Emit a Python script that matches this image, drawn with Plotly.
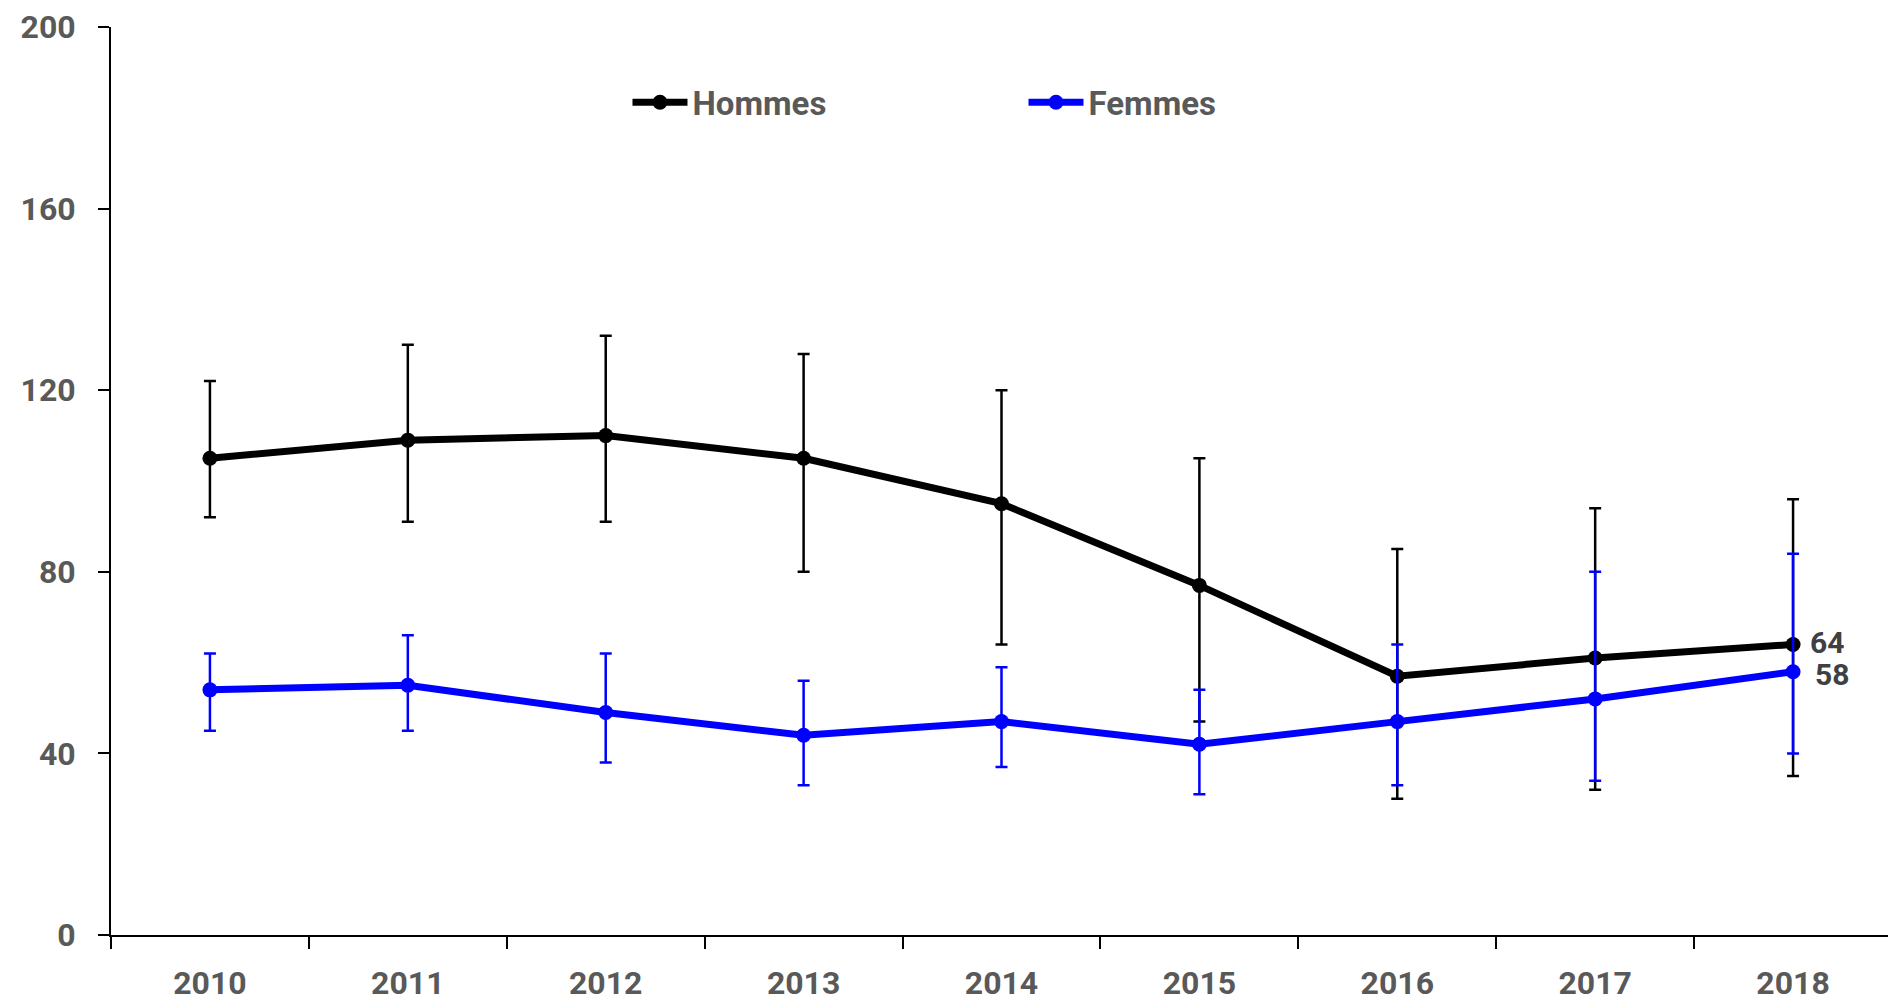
import plotly.graph_objects as go

years = ["2010", "2011", "2012", "2013", "2014", "2015", "2016", "2017", "2018"]
hommes = [105, 109, 110, 105, 95, 77, 57, 61, 64]
hommes_hi = [122, 130, 132, 128, 120, 105, 85, 94, 96]
hommes_lo = [92, 91, 91, 80, 64, 47, 30, 32, 35]
femmes = [54, 55, 49, 44, 47, 42, 47, 52, 58]
femmes_hi = [62, 66, 62, 56, 59, 54, 64, 80, 84]
femmes_lo = [45, 45, 38, 33, 37, 31, 33, 34, 40]
y_ticks = [0, 40, 80, 120, 160, 200]

FONT = "Roboto, Arial, sans-serif"
GREY = "#595959"

def up(v, hi):
    return [h - x for x, h in zip(v, hi)]

def down(v, lo):
    return [x - l for x, l in zip(v, lo)]

fig = go.Figure()
fig.add_trace(go.Scatter(
    x=years, y=hommes, name="Hommes", mode="lines+markers",
    line=dict(color="#000000", width=7),
    marker=dict(color="#000000", size=15),
    error_y=dict(type="data", symmetric=False, array=up(hommes, hommes_hi),
                 arrayminus=down(hommes, hommes_lo), color="#000000",
                 thickness=2.5, width=6),
))
fig.add_trace(go.Scatter(
    x=years, y=femmes, name="Femmes", mode="lines+markers",
    line=dict(color="#0000FF", width=7),
    marker=dict(color="#0000FF", size=15),
    error_y=dict(type="data", symmetric=False, array=up(femmes, femmes_hi),
                 arrayminus=down(femmes, femmes_lo), color="#0000FF",
                 thickness=2.5, width=6),
))

last = len(years) - 1
fig.add_annotation(x=last, y=hommes[last], text=str(hommes[last]), showarrow=False,
                   xanchor="left", xshift=15, yshift=2,
                   font=dict(family=FONT, size=30, color="#404040", weight="bold"))
fig.add_annotation(x=last, y=femmes[last], text=str(femmes[last]), showarrow=False,
                   xanchor="left", xshift=20, yshift=-3,
                   font=dict(family=FONT, size=30, color="#404040", weight="bold"))

fig.update_layout(
    width=1888, height=994,
    margin=dict(l=103, r=4, t=19, b=67, autoexpand=False),
    plot_bgcolor="white", paper_bgcolor="white",
    font=dict(family=FONT, size=32, color=GREY, weight="bold"),
    legend=dict(orientation="h", x=0.29, y=0.917, xanchor="left", yanchor="middle",
                font=dict(family=FONT, size=33, color=GREY, weight="bold"),
                entrywidth=326, entrywidthmode="pixels", itemwidth=55,
                bgcolor="rgba(0,0,0,0)"),
    xaxis=dict(type="category", range=[-0.5, 8.5], showline=True, linecolor="#000000",
               linewidth=2, ticks="outside", tickson="boundaries", ticklen=12,
               tickwidth=2, tickcolor="#000000", showgrid=False, automargin=False,
               ticklabelstandoff=19, tickfont=dict(family=FONT, size=32, color=GREY, weight="bold")),
    yaxis=dict(range=[0, 200], tickvals=y_ticks, showline=True, linecolor="#000000",
               linewidth=2, ticks="outside", ticklen=11, tickwidth=2, tickcolor="#000000",
               showgrid=False, zeroline=False, ticklabelstandoff=16, automargin=False,
               tickfont=dict(family=FONT, size=32, color=GREY, weight="bold")),
)

fig.write_html("out.html")
